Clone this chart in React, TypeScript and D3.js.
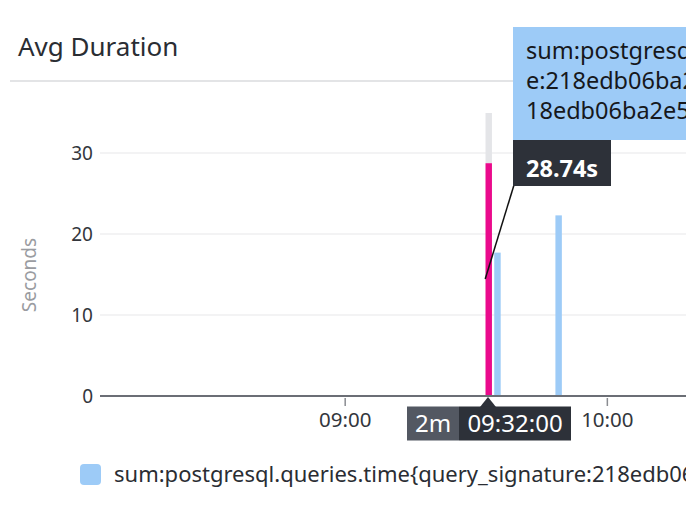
import React from "react";
import * as d3 from "d3";

const W = 686;
const H = 522;

const barTimes = ["09:32", "09:34", "09:48"];
const barValues = [28.74, 17.7, 22.3];
const stackedOther = [6.2, 0, 0];
const highlightIndex = 0;
const yTicks = [0, 10, 20, 30];
const xTickLabels = ["09:00", "10:00"];
const title = "Avg Duration";
const yLabel = "Seconds";
const legendLabel = "sum:postgresql.queries.time{query_signature:218edb06ba2e5f1c}";
const tooltipLines = [
  "sum:postgresql.queries.time{query_signatur",
  "e:218edb06ba2e5f1c,query_signature:2",
  "18edb06ba2e5f1c}",
];
const tooltipValue = "28.74s";
const cursorInterval = "2m";
const cursorTime = "09:32:00";

const parse = (s: string) => {
  const [h, m] = s.split(":").map(Number);
  return new Date(2024, 0, 1, h, m, 0);
};

const FONT = "'Noto Sans', 'Open Sans', sans-serif";

export default function App() {
  const x = d3
    .scaleTime()
    .domain([parse("08:04"), parse("10:18")])
    .range([100.5, 686]);
  const y = d3.scaleLinear().domain([0, 30]).range([396, 153]);
  const twoMin = 2 * 60 * 1000;

  const hiT = parse(barTimes[highlightIndex]);
  const hx = x(hiT) + 3.2;

  return (
    <svg
      width={W}
      height={H}
      style={{ position: "absolute", left: 0, top: 0, display: "block", background: "#ffffff" }}
      fontFamily={FONT}
    >
      <rect x={0} y={0} width={W} height={H} fill="#ffffff" />
      {/* title */}
      <text x={18} y={56} fontSize={26} fill="#2a2d33">{title}</text>
      <line x1={10} x2={W} y1={81} y2={81} stroke="#e3e4e6" strokeWidth={2} />

      {/* gridlines */}
      {yTicks.filter((t) => t !== 0).map((t) => (
        <line key={t} x1={100} x2={W} y1={y(t)} y2={y(t)} stroke="#e8e8ea" strokeWidth={1.2} />
      ))}
      {yTicks.map((t) => (
        <text key={"l" + t} x={93} y={y(t) + 7} fontSize={19} textAnchor="end" fill="#33363c">{t}</text>
      ))}
      <text
        transform={`translate(36,${275}) rotate(-90)`}
        fontSize={19}
        textAnchor="middle"
        fill="#9a9ca1"
      >
        {yLabel}
      </text>

      {/* bars */}
      {barTimes.map((t, i) => {
        const d = parse(t);
        const x0 = x(d) + 0.5;
        const w = x(new Date(+d + twoMin)) - x(d) - 2.3;
        const isHi = i === highlightIndex;
        return (
          <g key={t}>
            {stackedOther[i] > 0 && (
              <rect
                x={x0}
                y={y(barValues[i] + stackedOther[i])}
                width={w}
                height={y(barValues[i]) - y(barValues[i] + stackedOther[i])}
                fill="#e4e5e8"
              />
            )}
            <rect
              x={x0}
              y={y(barValues[i])}
              width={w}
              height={y(0) - y(barValues[i])}
              fill={isHi ? "#ea0a8c" : "#9dcbf7"}
            />
          </g>
        );
      })}

      {/* x axis */}
      <line x1={100} x2={W} y1={y(0)} y2={y(0)} stroke="#6b6e75" strokeWidth={2} />
      {xTickLabels.map((t) => (
        <g key={t}>
          <line x1={x(parse(t))} x2={x(parse(t))} y1={398} y2={406} stroke="#8a8c91" strokeWidth={1.5} />
          <text x={x(parse(t))} y={427} fontSize={20.5} textAnchor="middle" fill="#33363c">{t}</text>
        </g>
      ))}

      {/* cursor label */}
      <path d={`M${x(hiT) + 3},397 L${x(hiT) - 5},407 L${x(hiT) + 11},407 Z`} fill="#2d3139" />
      <rect x={407} y={406.5} width={52} height={34} fill="#535862" />
      <rect x={459} y={406.5} width={112} height={34} fill="#2d3139" />
      <text x={433} y={432} fontSize={24} textAnchor="middle" fill="#ffffff">{cursorInterval}</text>
      <text x={515} y={432} fontSize={24} textAnchor="middle" fill="#ffffff">{cursorTime}</text>

      {/* legend */}
      <rect x={80} y={464} width={21} height={21} rx={4} fill="#9dcbf7" />
      <text x={114} y={482} fontSize={22} fill="#2a2d33">{legendLabel}</text>

      {/* tooltip */}
      <line x1={hx - 3} y1={279} x2={514} y2={185} stroke="#111" strokeWidth={1.5} />
      <rect x={513} y={27} width={W - 513} height={113} fill="#9dcbf7" />
      {tooltipLines.map((l, i) => (
        <text key={i} x={526} y={59 + i * 30} fontSize={23.5} fill="#16181c">{l}</text>
      ))}
      <rect x={513} y={140} width={98} height={46} fill="#2d3139" />
      <text x={526} y={177} fontSize={23.5} fontWeight="bold" fill="#ffffff">{tooltipValue}</text>
    </svg>
  );
}
